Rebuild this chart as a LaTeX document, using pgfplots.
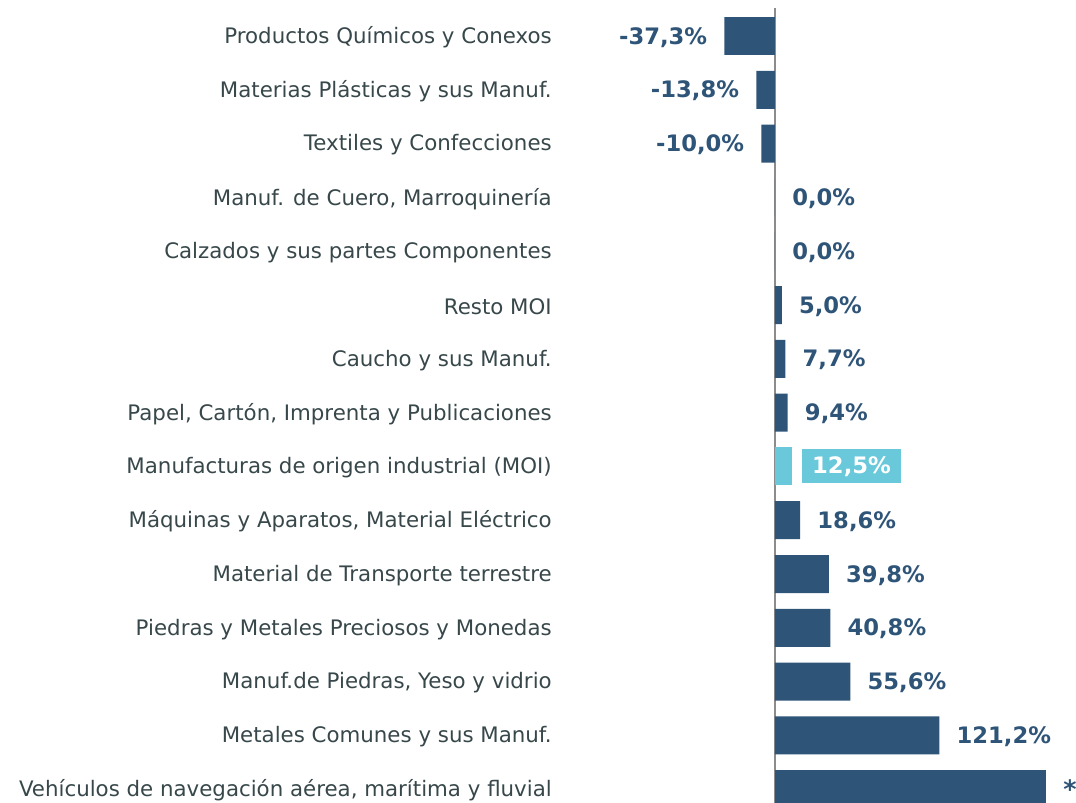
\documentclass[border=0pt]{standalone}
\usepackage{fontspec}
\setmainfont{DejaVu Sans}
\usepackage{pgfplots}
\pgfplotsset{compat=1.18}
\definecolor{barblue}{HTML}{2E5478}
\definecolor{lightbar}{HTML}{6AC8DB}
\definecolor{labtext}{HTML}{37474A}
\definecolor{zeroline}{HTML}{8C8C8C}
\begin{document}
\begin{tikzpicture}
\begin{axis}[
  at={(0pt,0pt)}, anchor=south west,
  scale only axis,
  width=393pt, height=602.25pt,
  xmin=-164.45, xmax=221.98,
  ymin=-0.669, ymax=14.256,
  y dir=reverse,
  axis line style={draw=none},
  major tick length=0pt,
  xtick=\empty,
  ytick={0,...,14},
  yticklabels={
    {Productos Químicos y Conexos},
    {Materias Plásticas y sus Manuf.},
    {Textiles y Confecciones},
    {Manuf. de Cuero, Marroquinería},
    {Calzados y sus partes Componentes},
    {Resto MOI},
    {Caucho y sus Manuf.},
    {Papel, Cartón, Imprenta y Publicaciones},
    {Manufacturas de origen industrial (MOI)},
    {Máquinas y Aparatos, Material Eléctrico},
    {Material de Transporte terrestre},
    {Piedras y Metales Preciosos y Monedas},
    {Manuf.de Piedras, Yeso y vidrio},
    {Metales Comunes y sus Manuf.},
    {Vehículos de navegación aérea, marítima y fluvial}},
  yticklabel style={font=\fontsize{16}{19}\selectfont, text=labtext, anchor=east, inner sep=0pt, yshift=-1pt},
  clip=false,
  point meta=x,
  /pgf/number format/assume math mode=true,
]
\draw[zeroline, line width=0.9pt] (axis cs:0,-0.52) -- (axis cs:0,14.256);
% negatives
\addplot[xbar, bar width=0.706, bar shift=0pt, fill=barblue, draw=none,
  nodes near coords={\pgfmathprintnumber[fixed,fixed zerofill,precision=1,use comma]{\pgfplotspointmeta}\%},
  nodes near coords style={anchor=east, inner sep=0pt, xshift=-12.75pt, yshift=-1pt, text=barblue, font=\fontsize{17}{20}\selectfont\bfseries}]
  coordinates {(-37.3,0) (-13.8,1) (-10.0,2)};
% positives
\addplot[xbar, bar width=0.706, bar shift=0pt, fill=barblue, draw=none,
  nodes near coords={\pgfmathprintnumber[fixed,fixed zerofill,precision=1,use comma]{\pgfplotspointmeta}\%},
  nodes near coords style={anchor=west, inner sep=0pt, xshift=12.75pt, yshift=-1pt, text=barblue, font=\fontsize{17}{20}\selectfont\bfseries}]
  coordinates {(0,3) (0,4) (5.0,5) (7.7,6) (9.4,7) (18.6,9) (39.8,10) (40.8,11) (55.6,12) (121.2,13)};
% MOI
\addplot[xbar, bar width=0.706, bar shift=0pt, fill=lightbar, draw=none,
  nodes near coords={\pgfmathprintnumber[fixed,fixed zerofill,precision=1,use comma]{\pgfplotspointmeta}\%},
  nodes near coords style={anchor=west, inner xsep=7.5pt, inner ysep=0pt, minimum height=25.5pt, xshift=7.5pt, fill=lightbar, text=white, font=\fontsize{17}{20}\selectfont\bfseries}]
  coordinates {(12.5,8)};
% vehicles
\addplot[xbar, bar width=0.706, bar shift=0pt, fill=barblue, draw=none,
  nodes near coords={*},
  nodes near coords style={anchor=west, inner sep=0pt, xshift=12.75pt, text=barblue, font=\fontsize{19}{22}\selectfont\bfseries}]
  coordinates {(200,14)};
\end{axis}
\pgfresetboundingbox
\path (-414pt,0pt) rectangle (393pt,602.25pt);
\end{tikzpicture}
\end{document}
